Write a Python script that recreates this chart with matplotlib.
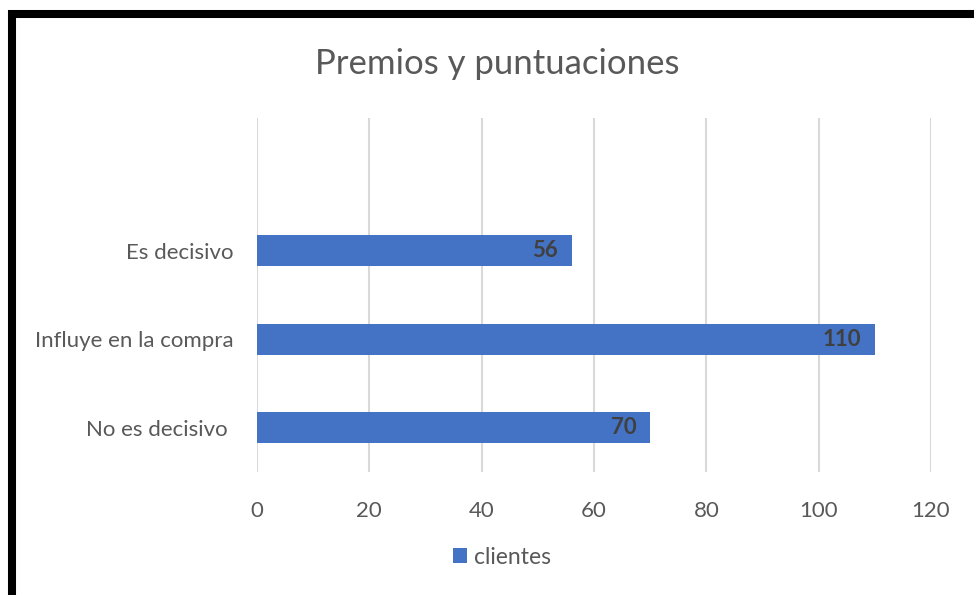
import matplotlib.pyplot as plt
from matplotlib.patches import Rectangle

categorias = ["No es decisivo ", "Influye en la compra", "Es decisivo"]
clientes = [70, 110, 56]
xticks = [0, 20, 40, 60, 80, 100, 120]

azul = "#4472C4"
gris = "#595959"

plt.rcParams['font.family'] = ['Lato', 'DejaVu Sans']

fig = plt.figure(figsize=(9.74, 5.95), dpi=100)
ax = fig.add_axes([257 / 974, 1 - 472 / 595, 674 / 974, 354 / 595])

pos = list(range(len(categorias)))
bars = ax.barh(pos, clientes, height=0.35, color=azul, label="clientes", zorder=3)

for p, v in zip(pos, clientes):
    ax.annotate(str(v), xy=(v, p), xytext=(-10, 0), textcoords="offset points",
                ha="right", va="center", fontsize=16, fontweight="bold",
                color="#404040", zorder=4)

ax.set_xlim(0, 120)
ax.set_ylim(-0.5, 3.5)
ax.set_xticks(xticks)
ax.set_yticks(pos)
ax.set_yticklabels(categorias)
ax.grid(axis="x", color="#D9D9D9", linewidth=1.5, zorder=0)
ax.tick_params(length=0, colors=gris, labelsize=16)
ax.tick_params(axis="x", pad=21)
ax.tick_params(axis="y", pad=17)
for s in ax.spines.values():
    s.set_visible(False)

fig.text(497 / 974, 1 - 64 / 595, "Premios y puntuaciones", ha="center", va="center",
         fontsize=25, color=gris)

fig.legend(loc="center", bbox_to_anchor=(502 / 974, 1 - 557 / 595), frameon=False,
           fontsize=16.5, labelcolor=gris, handlelength=0.6, handleheight=0.6,
           handletextpad=0.3)

# marco negro (recortado a la derecha y abajo)
fig.add_artist(Rectangle((12 / 974, -0.2), 1.5, 1.2 - 14 / 595, transform=fig.transFigure,
                         fill=False, edgecolor="black", linewidth=5.8))

fig.savefig("out.png", dpi=100)
